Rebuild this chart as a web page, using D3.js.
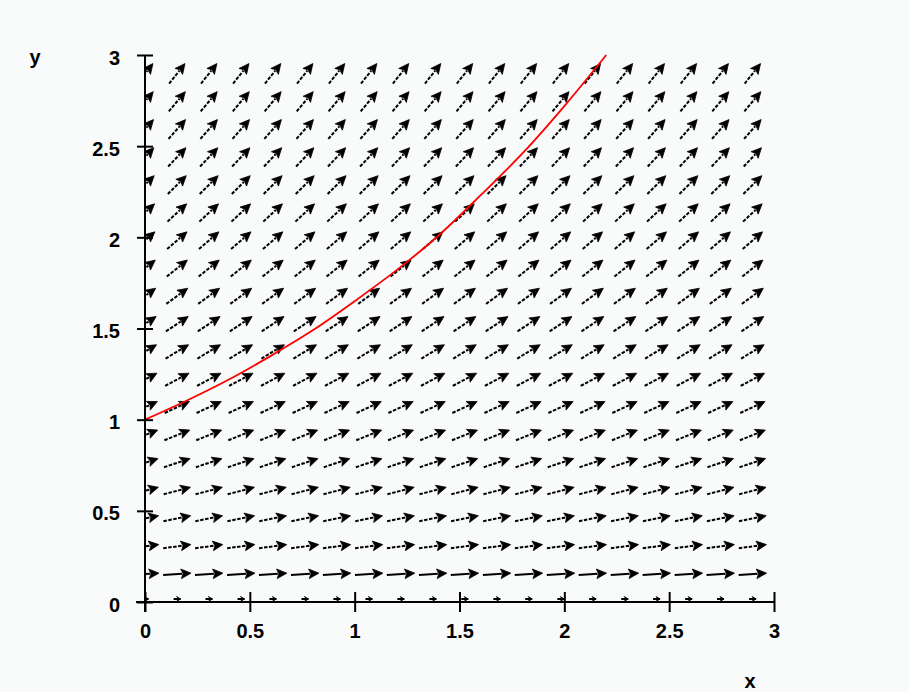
<!DOCTYPE html>
<html>
<head>
<meta charset="utf-8">
<script src="https://cdn.jsdelivr.net/npm/d3@7"></script>
<style>
  body { margin: 0; background: #f8fbf9; }
  svg { display: block; }
  .lbl { font-family: "Liberation Sans", Arial, sans-serif; font-weight: bold; font-size: 20px; fill: #000; }
</style>
</head>
<body>
<svg id="chart"></svg>
<script>
// campo de direcciones dy/dx y una solucion que pasa por (0,1)

// grilla de flechas
var gridX = [0, 0.153, 0.305, 0.458, 0.61, 0.763, 0.915, 1.068, 1.22, 1.373,
             1.525, 1.678, 1.83, 1.983, 2.135, 2.288, 2.44, 2.593, 2.745, 2.898];
var gridY = [0, 0.153, 0.305, 0.458, 0.61, 0.763, 0.915, 1.068, 1.22, 1.373,
             1.525, 1.678, 1.83, 1.983, 2.135, 2.288, 2.44, 2.593, 2.745, 2.898];
// pendiente de las flechas en cada fila (iguales en toda la fila)
var rowSlope = [0, 0.08, 0.15, 0.23, 0.3, 0.38, 0.46, 0.53, 0.61, 0.69,
                0.76, 0.84, 0.92, 0.99, 1.07, 1.14, 1.22, 1.3, 1.37, 1.45];

// curva solucion (roja)
var curveX = [0, 0.2, 0.4, 0.6, 0.8, 1.0, 1.2, 1.4, 1.6, 1.8, 2.0, 2.2];
var curveY = [1, 1.105, 1.22, 1.35, 1.49, 1.65, 1.82, 2.01, 2.23, 2.46, 2.72, 3.0];

var xTicks = [0, 0.5, 1, 1.5, 2, 2.5, 3];
var yTicks = [0, 0.5, 1, 1.5, 2, 2.5, 3];

var svgWidth = 909, svgHeight = 692;
var mLeft = 145, mTop = 55, mRight = 774, mBottom = 602;

var svg = d3.select('#chart')
    .attr('width', svgWidth)
    .attr('height', svgHeight);

var xScale = d3.scaleLinear().domain([0, 3]).range([mLeft, mRight]);
var yScale = d3.scaleLinear().domain([0, 3]).range([mBottom, mTop]);

// las flechas se recortan al area del grafico
svg.append('defs').append('clipPath')
    .attr('id', 'area')
    .append('rect')
    .attr('x', xScale(0))
    .attr('y', yScale(3) - 20)
    .attr('width', xScale(3) - xScale(0) + 20)
    .attr('height', yScale(0) - yScale(3) + 20);

// armo la lista de flechas
var arrows = [];
for (var j = 0; j < gridY.length; j++) {
    for (var i = 0; i < gridX.length; i++) {
        arrows.push({ x: gridX[i], y: gridY[j], s: rowSlope[j] });
    }
}

var L = 0.1335;     // largo de la flecha en unidades de datos
var headLen = 10, headW = 4.8;

function arrowGeom(d) {
    var cx = xScale(d.x), cy = yScale(d.y);
    var n = Math.sqrt(1 + d.s * d.s);
    var px = (xScale(L / n) - xScale(0));
    var py = (yScale(L * d.s / n) - yScale(0));
    if (d.y === 0) { px = 7; py = 0; cy -= 3; }   // fila y=0: flecha casi nula
    var len = Math.sqrt(px * px + py * py);
    var ux = px / len, uy = py / len;
    return {
        x1: cx - px / 2, y1: cy - py / 2,
        x2: cx + px / 2, y2: cy + py / 2,
        ux: ux, uy: uy, len: len
    };
}

var gArrows = svg.append('g').attr('clip-path', 'url(#area)');

var ag = gArrows.selectAll('g.arrow')
    .data(arrows)
    .enter()
    .append('g')
    .attr('class', 'arrow');

ag.append('line')
    .attr('x1', function (d) { return arrowGeom(d).x1; })
    .attr('y1', function (d) { return arrowGeom(d).y1; })
    .attr('x2', function (d) { var a = arrowGeom(d); return a.x2 - a.ux * (a.len > 10 ? headLen - 1 : 0); })
    .attr('y2', function (d) { var a = arrowGeom(d); return a.y2 - a.uy * (a.len > 10 ? headLen - 1 : 0); })
    .attr('stroke', 'black')
    .attr('stroke-width', 2)
    .attr('stroke-dasharray', function (d) { return d.y > 0.2 ? '3.5,1.5' : null; });

ag.append('path')
    .attr('d', function (d) {
        var a = arrowGeom(d);
        var hl = a.len > 10 ? headLen : 4, hw = a.len > 10 ? headW : 2.5;
        var bx = a.x2 - a.ux * hl, by = a.y2 - a.uy * hl;
        return 'M' + a.x2 + ',' + a.y2 +
            'L' + (bx - a.uy * hw) + ',' + (by + a.ux * hw) +
            'L' + (bx + a.ux * 2) + ',' + (by + a.uy * 2) +
            'L' + (bx + a.uy * hw) + ',' + (by - a.ux * hw) + 'Z';
    })
    .attr('fill', 'black')
    .attr('stroke', 'black')
    .attr('stroke-width', 0.8)
    .attr('stroke-linejoin', 'round');

// curva solucion
var linea = d3.line()
    .x(function (d) { return xScale(d[0]); })
    .y(function (d) { return yScale(d[1]); })
    .curve(d3.curveMonotoneX);

svg.append('path')
    .datum(d3.zip(curveX, curveY))
    .attr('d', linea)
    .attr('fill', 'none')
    .attr('stroke', '#ff0000')
    .attr('stroke-width', 1.8);

// ejes
var ejeY = d3.axisLeft(yScale).tickValues(yTicks).tickSize(8).tickSizeOuter(0)
    .tickPadding(17).tickFormat(d3.format('~g'));
var ejeX = d3.axisBottom(xScale).tickValues(xTicks).tickSize(10).tickSizeOuter(0)
    .tickPadding(12).tickFormat(d3.format('~g'));

var gy = svg.append('g')
    .attr('transform', 'translate(' + xScale(0) + ',0)')
    .call(ejeY);
gy.select('.domain').remove();
gy.selectAll('.tick line').attr('x1', 8).attr('stroke-width', 2);
gy.selectAll('.tick text').attr('class', 'lbl').attr('dy', '0.45em');

var gx = svg.append('g')
    .attr('transform', 'translate(0,' + yScale(0) + ')')
    .call(ejeX);
gx.select('.domain').remove();
gx.selectAll('.tick line').attr('y1', -10).attr('stroke-width', 2);
gx.selectAll('.tick text').attr('class', 'lbl');

// lineas de los ejes
svg.append('line')
    .attr('x1', xScale(0)).attr('x2', xScale(0))
    .attr('y1', yScale(3)).attr('y2', yScale(0) + 10)
    .attr('stroke', 'black').attr('stroke-width', 2);
svg.append('line')
    .attr('x1', xScale(0) - 9).attr('x2', xScale(3))
    .attr('y1', yScale(0)).attr('y2', yScale(0))
    .attr('stroke', 'black').attr('stroke-width', 2);

// titulos de los ejes
svg.append('text').attr('class', 'lbl')
    .attr('x', 35).attr('y', 64)
    .attr('text-anchor', 'middle')
    .text('y');
svg.append('text').attr('class', 'lbl')
    .attr('x', 750).attr('y', 688)
    .attr('text-anchor', 'middle')
    .text('x');
</script>
</body>
</html>
